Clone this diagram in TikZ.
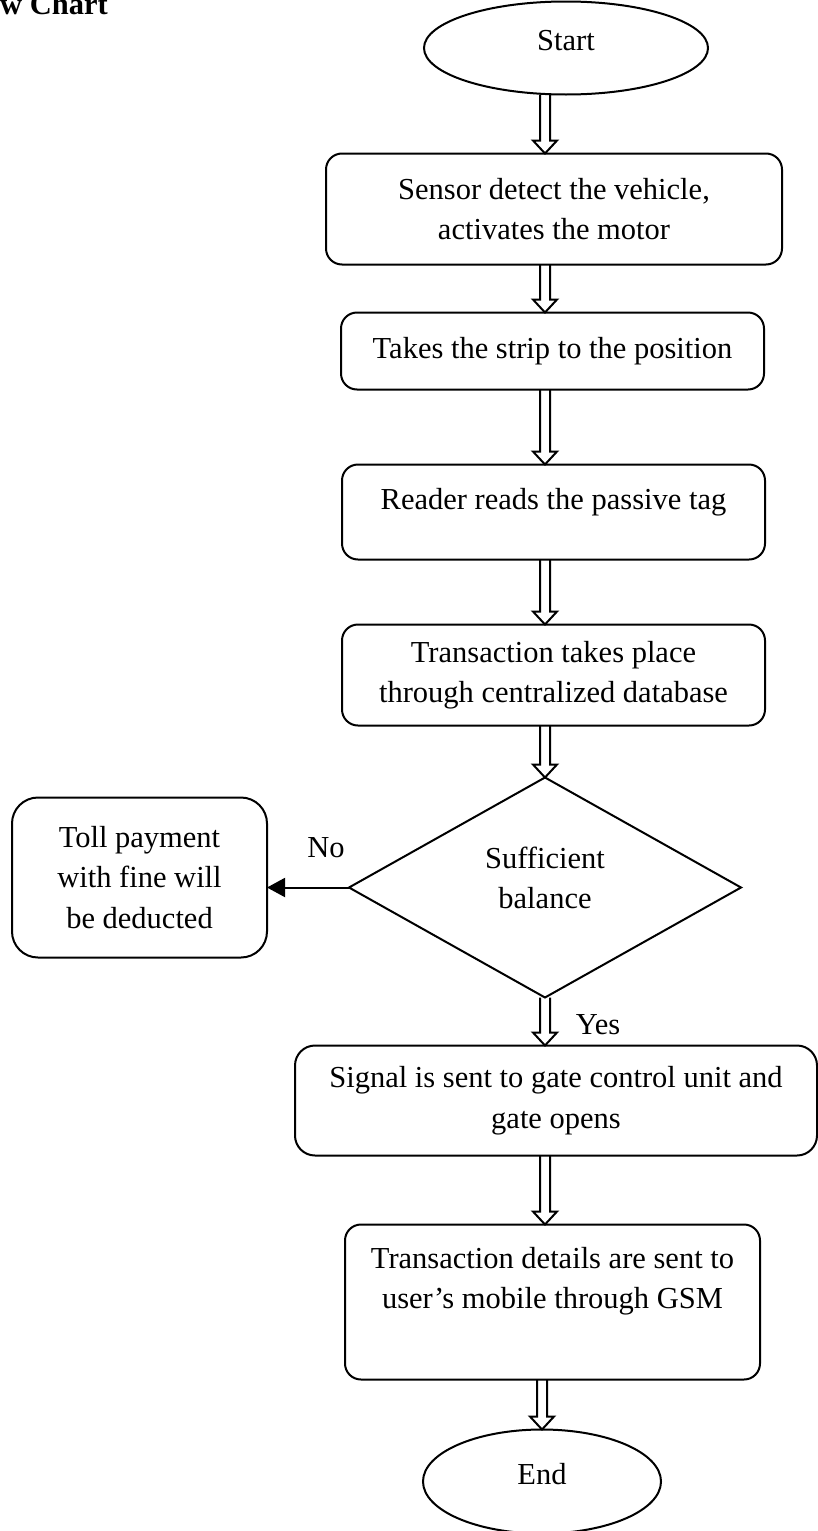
\documentclass[tikz,border=0pt]{standalone}
\usepackage{fontspec}
\setmainfont{Liberation Serif}
\usetikzlibrary{shapes.geometric,positioning,calc,arrows.meta}

\begin{document}
\begin{tikzpicture}[x=1pt, y=-1pt,
        node distance=50pt and 82pt,
        every node/.style={font=\fontsize{30.5}{40.5}\selectfont, align=center},
        stepbox/.style={draw, line width=2pt, rounded corners=16pt, inner sep=0pt, outer sep=0pt},
        terminal/.style={draw, ellipse, line width=2pt, inner sep=0pt, outer sep=0pt, text height=21pt, text depth=16pt},
        decision/.style={draw, diamond, aspect=1.78, line width=2pt, inner sep=0pt, outer sep=0pt, minimum width=392pt, minimum height=220pt},
        lbl/.style={inner sep=0pt},
        hollow/.style={draw, line width=2pt, to path={let \p1=(\tikztostart), \p2=(\tikztotarget) in
            (\x1-5pt,\y1) -- (\x1-5pt,\y2+13pt) -- (\x1-12pt,\y2+13pt) -- (\x1,\y2)
            -- (\x1+12pt,\y2+13pt) -- (\x1+5pt,\y2+13pt) -- (\x1+5pt,\y1)}}
    ]
  \useasboundingbox (0,0) rectangle (818,1531);

  % Nodes
  \node (title) [lbl, anchor=base west, font=\fontsize{30.5}{40.5}\selectfont\bfseries] at (0,14) {w Chart};
  \coordinate (axis) at (545,0);
  \node (start) [terminal, minimum width=284pt, minimum height=93pt] at (566,48) {Start};
  \node (sensor) [stepbox, below=59pt of start, xshift=-12pt, minimum width=456pt, minimum height=111pt] {Sensor detect the vehicle,\\activates the motor};
  \node (strip) [stepbox, below=48pt of sensor, xshift=-1.5pt, minimum width=423pt, minimum height=77pt] {Takes the strip to the position};
  \node (reader) [stepbox, below=75pt of strip, xshift=1pt, minimum width=423pt, minimum height=95pt, text height=45pt, text depth=50pt] {Reader reads the passive tag};
  \node (trans) [stepbox, below=65pt of reader, minimum width=423pt, minimum height=101pt] {Transaction takes place\\through centralized database};
  \node (balance) [decision, below=52pt of trans, xshift=-8.5pt, text height=60pt, text depth=18pt] {Sufficient\\balance};
  \node (toll) [stepbox, rounded corners=26pt, left=82pt of balance, yshift=10pt, minimum width=255pt, minimum height=160pt] {Toll payment\\with fine will\\be deducted};
  \node (signal) [stepbox, rounded corners=20pt, below=48pt of balance, xshift=11pt, minimum width=522pt, minimum height=110pt] {Signal is sent to gate control unit and\\gate opens};
  \node (details) [stepbox, below=69pt of signal, xshift=-3.5pt, minimum width=415pt, minimum height=155pt, text height=84pt, text depth=71pt] {Transaction details are sent to\\user's mobile through GSM};
  \node (end) [terminal, below=50pt of details, xshift=-10.5pt, minimum width=238pt, minimum height=104pt] {End};
  \node (no) [lbl] at (326,848) {No};
  \node (yes) [lbl] at (598,1025) {Yes};

  % Connectors
  \draw[hollow] (start.south -| axis) to (sensor.north -| axis);
  \draw[hollow] (sensor.south -| axis) to (strip.north -| axis);
  \draw[hollow] (strip.south -| axis) to (reader.north -| axis);
  \draw[hollow] (reader.south -| axis) to (trans.north -| axis);
  \draw[hollow] (trans.south -| axis) to (balance.north);
  \draw[hollow] (balance.south) to (signal.north -| balance.south);
  \draw[hollow] (signal.south -| axis) to (details.north -| axis);
  \draw[hollow] (details.south -| end.north) to (end.north);
  \draw[line width=2pt, -{Triangle[length=18pt,width=19pt]}] (balance.west) -- (balance.west -| toll.east);
\end{tikzpicture}
\end{document}
